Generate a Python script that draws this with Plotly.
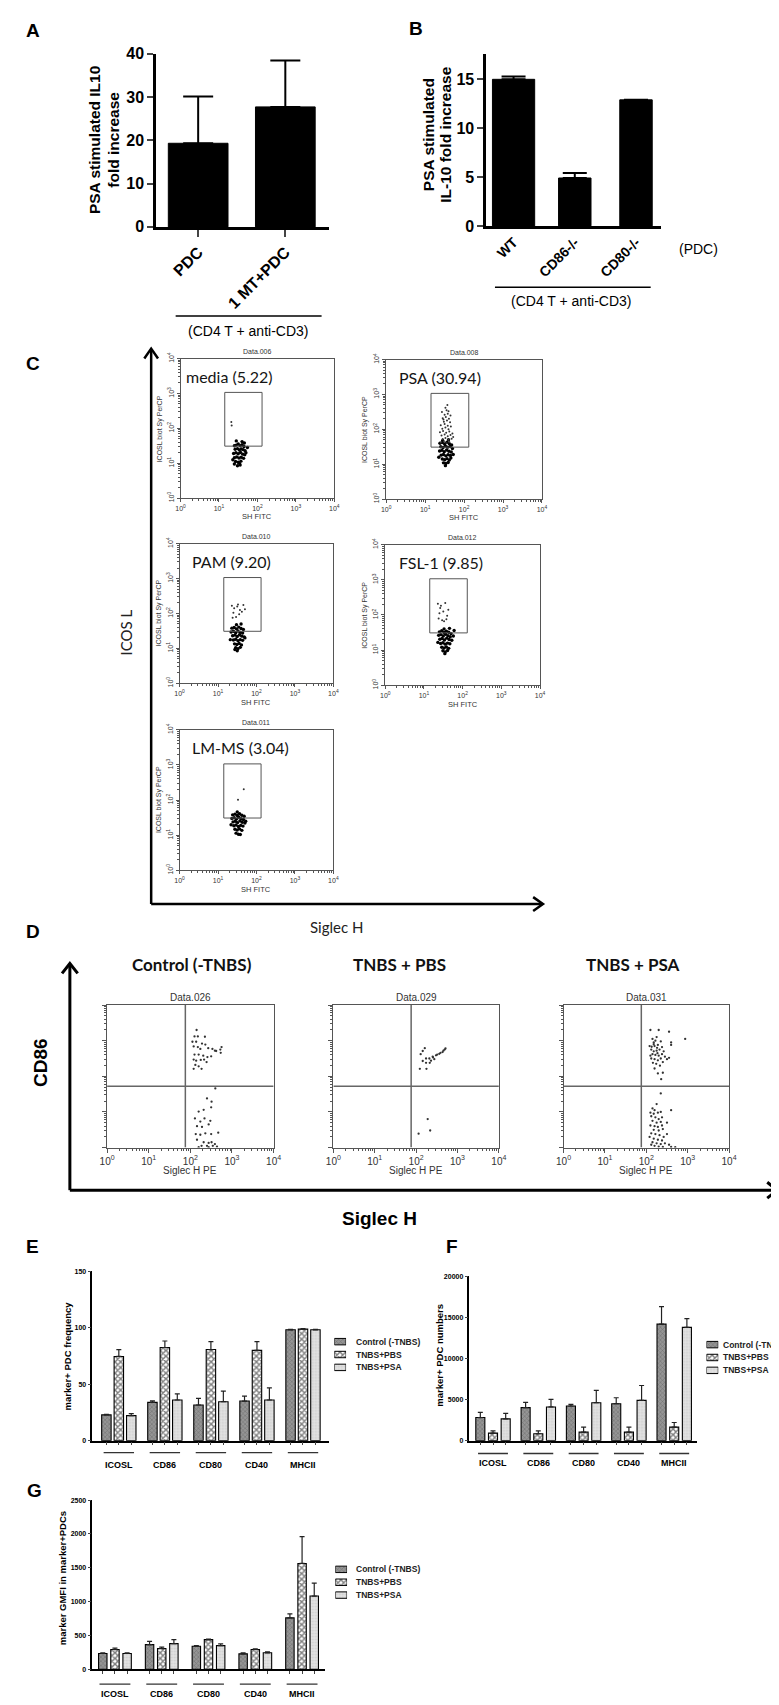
import numpy as np
import plotly.graph_objects as go

W, H = 779, 1705
ARIAL = "Liberation Sans, Arial, sans-serif"
CAL = "Lato, Carlito, sans-serif"

# ------------------------------------------------------------------ data
A_groups = ["PDC", "1 MT+PDC"]
A_mean = [19.3, 27.7]
A_sem = [10.8, 10.7]

B_groups = ["WT", "CD86-/-", "CD80-/-"]
B_mean = [15.0, 4.9, 12.9]
B_sem = [0.3, 0.5, 0.0]

C_labels = ["media (5.22)", "PSA (30.94)", "PAM (9.20)", "FSL-1 (9.85)", "LM-MS (3.04)"]
C_files = ["Data.006", "Data.008", "Data.010", "Data.012", "Data.011"]
C_gate = [1.15, 2.12, 1.49, 3.03]

media_cx = [1.40,1.45,1.50,1.55,1.60,1.65,1.42,1.48,1.53,1.58,1.63,1.68,1.38,1.44,1.50,1.56,1.62,1.67,1.40,1.46,1.52,1.58,1.64,1.43,1.50,1.57,1.48,1.55,1.36,1.70,1.60,1.45,1.53,1.66,1.40,1.74]
media_cy = [1.50,1.52,1.55,1.50,1.53,1.48,1.40,1.42,1.38,1.41,1.39,1.36,1.28,1.30,1.27,1.31,1.26,1.24,1.16,1.18,1.15,1.17,1.14,1.05,1.03,1.06,0.93,0.95,1.10,1.30,1.62,1.64,1.00,1.58,0.98,1.45]
media_gx = [1.32, 1.33]
media_gy = [2.18, 2.08]

psa_cx = [1.38,1.44,1.50,1.56,1.62,1.68,1.40,1.46,1.52,1.58,1.64,1.70,1.37,1.43,1.49,1.55,1.61,1.67,1.41,1.47,1.53,1.59,1.65,1.44,1.50,1.56,1.62,1.47,1.53,1.59,1.35,1.72,1.45,1.60,1.52,1.66]
psa_cy = [1.60,1.62,1.58,1.63,1.59,1.55,1.50,1.48,1.52,1.49,1.51,1.45,1.38,1.40,1.36,1.41,1.37,1.35,1.26,1.28,1.24,1.27,1.25,1.15,1.13,1.16,1.12,1.04,1.02,1.05,1.20,1.28,1.68,1.70,0.96,1.18]
psa_gx = [1.40,1.48,1.55,1.62,1.45,1.52,1.60,1.68,1.42,1.50,1.58,1.65,1.72,1.38,1.46,1.54,1.62,1.70,1.44,1.52,1.60,1.40,1.50,1.58,1.66,1.48,1.56,1.64,1.45,1.53,1.61,1.50,1.58,1.43,1.55,1.65,1.52,1.47,1.60,1.57]
psa_gy = [1.62,1.65,1.60,1.64,1.72,1.75,1.70,1.73,1.82,1.85,1.80,1.84,1.78,1.92,1.95,1.90,1.94,1.88,2.02,2.05,2.00,2.12,2.15,2.10,2.08,2.22,2.25,2.20,2.32,2.35,2.30,2.42,2.45,2.50,2.55,2.40,2.62,2.28,2.52,2.70]

pam_cx = [1.36,1.42,1.48,1.54,1.60,1.66,1.34,1.40,1.46,1.52,1.58,1.64,1.38,1.44,1.50,1.56,1.62,1.68,1.40,1.46,1.52,1.58,1.64,1.43,1.49,1.55,1.61,1.46,1.52,1.58,1.32,1.70,1.48,1.60,1.50,1.44]
pam_cy = [1.58,1.60,1.56,1.61,1.57,1.54,1.47,1.49,1.45,1.50,1.46,1.44,1.36,1.38,1.34,1.39,1.35,1.33,1.24,1.26,1.22,1.25,1.23,1.13,1.11,1.14,1.10,1.02,0.99,1.03,1.25,1.30,1.68,1.70,0.93,0.97]
pam_gx = [1.36,1.42,1.50,1.57,1.66,1.40,1.55,1.62,1.47,1.70,1.38,1.52]
pam_gy = [2.22,2.15,2.20,2.10,2.24,2.02,1.98,2.05,1.90,2.12,1.88,2.26]

fsl_cx = [1.40,1.46,1.52,1.58,1.64,1.70,1.38,1.44,1.50,1.56,1.62,1.68,1.41,1.47,1.53,1.59,1.65,1.72,1.43,1.49,1.55,1.61,1.67,1.46,1.52,1.58,1.64,1.49,1.55,1.61,1.36,1.76,1.52,1.66,1.54,1.78]
fsl_cy = [1.52,1.55,1.50,1.54,1.51,1.47,1.42,1.44,1.40,1.45,1.41,1.38,1.31,1.33,1.29,1.34,1.30,1.28,1.19,1.21,1.17,1.20,1.18,1.08,1.06,1.09,1.05,0.98,0.95,0.99,1.22,1.40,1.60,1.62,0.90,1.56]
fsl_gx = [1.36,1.42,1.55,1.40,1.50,1.60,1.38,1.47,1.58,1.44,1.52,1.63]
fsl_gy = [2.32,2.20,2.34,2.05,2.10,1.98,1.90,1.85,1.88,2.26,1.82,2.15]

lm_cx = [1.38,1.44,1.50,1.56,1.62,1.68,1.36,1.42,1.48,1.54,1.60,1.66,1.39,1.45,1.51,1.57,1.63,1.70,1.41,1.47,1.53,1.59,1.65,1.44,1.50,1.56,1.62,1.47,1.53,1.34,1.72,1.50,1.58]
lm_cy = [1.58,1.60,1.56,1.61,1.57,1.54,1.48,1.50,1.46,1.51,1.47,1.45,1.38,1.40,1.36,1.41,1.37,1.35,1.27,1.29,1.25,1.28,1.26,1.17,1.15,1.18,1.14,1.06,1.03,1.30,1.40,1.66,1.02]
lm_gx = [1.67, 1.52]
lm_gy = [2.31, 2.01]

D_titles = ["Control (-TNBS)", "TNBS + PBS", "TNBS + PSA"]
D_files = ["Data.026", "Data.029", "Data.031"]
D_quad = [1.88, 1.72]

ctrl_x = [2.15,2.10,2.18,2.35,2.05,2.14,2.28,2.36,2.08,2.18,2.24,2.43,2.53,2.62,2.75,2.72,2.10,2.20,2.31,2.41,2.50,2.08,2.14,2.25,2.33,2.12,2.20,2.27,2.08,2.39,2.59,2.73,
          2.60,2.40,2.51,2.20,2.32,2.50,2.11,2.34,2.24,2.48,2.16,2.28,2.44,2.13,2.24,2.36,2.50,2.67,2.16,2.32,2.44,2.51,2.59,2.27,2.40,2.54,2.64,2.20,2.44]
ctrl_y = [3.30,3.12,3.12,3.11,2.97,2.97,2.92,2.89,2.84,2.82,2.77,2.79,2.77,2.71,2.82,2.75,2.61,2.61,2.58,2.54,2.56,2.47,2.44,2.46,2.47,2.32,2.28,2.21,2.21,2.40,2.72,2.66,
          1.66,1.38,1.29,1.01,1.06,1.13,0.82,0.82,0.73,0.75,0.60,0.58,0.65,0.38,0.36,0.40,0.38,0.42,0.22,0.15,0.13,0.15,0.10,0.05,0.05,0.05,0.03,0.01,0.01]
pbs_x = [2.21,2.16,2.11,2.24,2.32,2.40,2.44,2.36,2.48,2.56,2.64,2.69,2.71,2.16,2.24,2.09,2.25,2.33,2.41,2.51,2.59,2.66,2.28,2.34,2.06]
pbs_y = [2.79,2.71,2.62,2.50,2.50,2.55,2.48,2.44,2.59,2.63,2.68,2.75,2.78,2.43,2.38,2.21,2.21,2.38,2.53,2.61,2.66,2.72,0.80,0.48,0.39]
dpsa_x = [2.10,2.30,2.55,2.94,2.15,2.25,2.22,2.18,2.35,2.08,2.13,2.20,2.28,2.38,2.12,2.18,2.25,2.32,2.42,2.15,2.22,2.30,2.38,2.45,2.55,2.60,2.60,2.12,2.20,2.28,2.35,2.16,2.24,2.33,2.20,2.28,2.40,2.36,2.10,2.27,2.40,2.50,2.18,2.26,
          2.35,2.25,2.15,2.20,2.60,2.10,2.18,2.28,2.35,2.12,2.22,2.30,2.38,2.15,2.25,2.35,2.50,2.10,2.20,2.28,2.38,2.18,2.30,2.40,2.12,2.22,2.32,2.42,2.50,2.08,2.18,2.28,2.38,2.15,2.25,2.35,2.45,2.55,2.20,2.30,2.40,2.60,2.70,2.12]
dpsa_y = [3.30,3.30,3.25,3.05,3.05,3.10,3.00,2.95,2.98,2.85,2.83,2.85,2.88,2.82,2.75,2.70,2.72,2.75,2.70,2.62,2.60,2.58,2.62,2.55,2.52,2.88,2.95,2.50,2.48,2.45,2.50,2.38,2.35,2.30,2.22,2.08,2.10,1.92,2.58,2.65,2.40,2.48,2.90,2.80,
          1.52,1.22,1.10,1.05,1.05,0.98,0.95,0.98,1.00,0.88,0.85,0.80,0.85,0.75,0.70,0.72,0.70,0.62,0.60,0.58,0.62,0.50,0.48,0.52,0.40,0.38,0.35,0.30,0.38,0.30,0.25,0.22,0.20,0.15,0.12,0.10,0.12,0.08,0.05,0.03,0.02,0.02,0.01,0.08]

markers = ["ICOSL", "CD86", "CD80", "CD40", "MHCII"]
series = ["Control (-TNBS)", "TNBS+PBS", "TNBS+PSA"]

E_ctrl = [22.8, 33.9, 31.6, 35.1, 98.2]
E_ctrl_sem = [0.5, 1.3, 5.8, 4.4, 0.5]
E_pbs = [74.6, 82.5, 80.7, 80.0, 98.8]
E_pbs_sem = [6.1, 5.8, 7.0, 7.7, 0.4]
E_psa = [22.2, 36.0, 34.5, 36.0, 98.2]
E_psa_sem = [1.8, 5.5, 9.4, 10.8, 0.5]

F_ctrl = [2810, 4020, 4220, 4500, 14180]
F_ctrl_sem = [640, 640, 200, 720, 2130]
F_pbs = [920, 840, 1040, 1040, 1650]
F_pbs_sem = [280, 360, 600, 600, 560]
F_psa = [2650, 4100, 4620, 4900, 13780]
F_psa_sem = [680, 920, 1490, 1810, 1080]

G_ctrl = [234, 365, 341, 229, 760]
G_ctrl_sem = [9, 49, 10, 15, 59]
G_pbs = [292, 307, 439, 292, 1564]
G_pbs_sem = [20, 20, 9, 10, 395]
G_psa = [234, 380, 351, 244, 1082]
G_psa_sem = [8, 59, 24, 14, 190]

# ------------------------------------------------------------------ helpers
def X(px):
    return px / W

def Y(py):
    return 1 - py / H

def xd(a, b):
    return [a / W, b / W]

def yd(top, bot):
    return [1 - bot / H, 1 - top / H]

def xa(i):
    return "xaxis" if i == 1 else f"xaxis{i}"

def ya(i):
    return "yaxis" if i == 1 else f"yaxis{i}"

def xr(i):
    return "x" if i == 1 else f"x{i}"

def yr(i):
    return "y" if i == 1 else f"y{i}"

fig = go.Figure()
layout = dict(width=W, height=H, margin=dict(l=0, r=0, t=0, b=0), showlegend=False,
              paper_bgcolor="white", plot_bgcolor="white", barmode="overlay")
shapes = []
anns = []

def ann(text, x, y, size, bold=False, angle=0, family=ARIAL, color="black", xanchor="center", yanchor="middle"):
    anns.append(dict(text=text, x=X(x), y=Y(y), xref="paper", yref="paper",
                     showarrow=False, textangle=angle, xanchor=xanchor, yanchor=yanchor,
                     font=dict(family=family, size=size, color=color, weight="bold" if bold else "normal")))

def hline(x0, x1, y, w=1.5, color="black"):
    shapes.append(dict(type="line", xref="paper", yref="paper", x0=X(x0), x1=X(x1), y0=Y(y), y1=Y(y),
                       line=dict(color=color, width=w)))

def vline(x, y0, y1, w=1.5, color="black"):
    shapes.append(dict(type="line", xref="paper", yref="paper", x0=X(x), x1=X(x), y0=Y(y0), y1=Y(y1),
                       line=dict(color=color, width=w)))

def chevron(pts, w=3):
    d = "M " + " L ".join(f"{X(a)},{Y(b)}" for a, b in pts)
    shapes.append(dict(type="path", xref="paper", yref="paper", path=d, line=dict(color="black", width=w)))

bold16 = dict(family=ARIAL, size=16, color="black", weight="bold")

# ------------------------------------------------------------------ A
fig.add_trace(go.Bar(x=A_groups, y=A_mean, width=0.685,
                     marker=dict(color="black", line=dict(color="black", width=1)),
                     error_y=dict(type="data", symmetric=False, array=A_sem, arrayminus=[0] * len(A_sem),
                                  color="black", thickness=2, width=15),
                     xaxis="x", yaxis="y"))
layout[xa(1)] = dict(domain=xd(143, 320), anchor="y", type="category", range=[-0.483, 1.506],
                     showline=True, linewidth=2.5, linecolor="black", ticks="outside", ticklen=7, tickwidth=2,
                     tickangle=-45, tickfont=bold16, showgrid=False, zeroline=False)
layout[ya(1)] = dict(domain=yd(38, 213), anchor="x", range=[0, 40], dtick=10,
                     showline=True, linewidth=2.5, linecolor="black", ticks="outside", ticklen=6, tickwidth=2,
                     tickfont=bold16, showgrid=False, zeroline=False)
ann("PSA stimulated IL10", 80, 125, 15.5, bold=True, angle=-90)
ann("fold increase", 100, 125, 15.5, bold=True, angle=-90)
hline(163, 312, 303, 1.5)
ann("(CD4 T + anti-CD3)", 237, 318, 14)

# ------------------------------------------------------------------ B
fig.add_trace(go.Bar(x=B_groups, y=B_mean, width=[0.69, 0.53, 0.53],
                     marker=dict(color="black", line=dict(color="black", width=1)),
                     error_y=dict(type="data", symmetric=False, array=B_sem, arrayminus=[0] * len(B_sem),
                                  color="black", thickness=2, width=12),
                     xaxis="x2", yaxis="y2"))
layout[xa(2)] = dict(domain=xd(480, 659), anchor="y2", type="category", range=[-0.448, 2.416],
                     showline=True, linewidth=2.5, linecolor="black", ticks="", tickangle=-45,
                     tickfont=dict(family=ARIAL, size=14, color="black", weight="bold"), showgrid=False, zeroline=False)
layout[ya(2)] = dict(domain=yd(38, 212), anchor="x2", range=[0, 17.63], dtick=5,
                     showline=True, linewidth=2.5, linecolor="black", ticks="outside", ticklen=6, tickwidth=2,
                     tickfont=bold16, showgrid=False, zeroline=False)
ann("PSA stimulated", 421, 120, 15.5, bold=True, angle=-90)
ann("IL-10 fold increase", 439, 120, 15.5, bold=True, angle=-90)
hline(489, 648, 274, 1.5)
ann("(CD4 T + anti-CD3)", 567, 288, 14)
ann("(PDC)", 697, 235, 14)

# ------------------------------------------------------------------ C
minor_vals = [float(np.log10(k) + d) for d in range(4) for k in range(2, 10)]
dec_text = [f"10<sup>{k}</sup>" for k in range(5)]

C_boxes = [(168, 325, 346, 487), (378, 537, 347, 488), (167, 324, 533, 674), (377, 535, 534, 676), (167, 324, 721, 863)]
C_text_dx = [4, 11, 11, 12, 11]
C_clusters = [(media_cx, media_cy, media_gx, media_gy), (psa_cx, psa_cy, psa_gx, psa_gy),
              (pam_cx, pam_cy, pam_gx, pam_gy), (fsl_cx, fsl_cy, fsl_gx, fsl_gy), (lm_cx, lm_cy, lm_gx, lm_gy)]

def flow_axes(i, box, xfont, yfont, ylabels=True, xlen=3):
    l, r, t, b = box
    common = dict(range=[0, 4], tickmode="array", tickvals=list(range(5)), ticktext=dec_text,
                  showline=True, mirror=True, linecolor="#555", linewidth=1, ticks="outside", ticklen=xlen,
                  tickcolor="#555", showgrid=False, zeroline=False,
                  minor=dict(tickmode="array", tickvals=minor_vals, ticks="outside", ticklen=2, tickcolor="#555", showgrid=False))
    layout[xa(i)] = dict(domain=xd(l, r), anchor=yr(i), tickfont=xfont, **common)
    layout[ya(i)] = dict(domain=yd(t, b), anchor=xr(i), tickfont=yfont, tickangle=-90,
                         showticklabels=ylabels, **common)

for k in range(5):
    i = 3 + k
    l, r, t, b = C_boxes[k]
    f = dict(family=ARIAL, size=7, color="#333")
    flow_axes(i, C_boxes[k], f, f)
    cx, cy, gx, gy = C_clusters[k]
    fig.add_trace(go.Scatter(x=cx, y=cy, mode="markers", marker=dict(color="black", size=3.4),
                             xaxis=xr(i), yaxis=yr(i), hoverinfo="skip"))
    fig.add_trace(go.Scatter(x=gx, y=gy, mode="markers", marker=dict(color="#333", size=2),
                             xaxis=xr(i), yaxis=yr(i), hoverinfo="skip"))
    shapes.append(dict(type="rect", xref=xr(i), yref=yr(i), x0=C_gate[0], x1=C_gate[1], y0=C_gate[2], y1=C_gate[3],
                       line=dict(color="#555", width=1)))
    ann(C_labels[k], l + C_text_dx[k], t + 18, 16, family=CAL, color="#151515", xanchor="left")
    ann(C_files[k], (l + r) / 2, t - 7, 7, color="#333")
    ann("SH FITC", (l + r) / 2, b + 19, 7.5, color="#333")
    ann("ICOSL biot Sy PerCP", l - 21, (t + b) / 2, 7, color="#333", angle=-90)

vline(138, 897, 337, 2.5)
hline(138, 537, 897, 2.5)
chevron([(131, 346), (138, 336), (145, 346)], 2.5)
chevron([(528, 890), (538, 897), (528, 904)], 2.5)
ann("ICOS L", 112, 623, 15, family=CAL, color="#222", angle=-90)
ann("Siglec H", 327, 920, 15, family=CAL, color="#222")

# ------------------------------------------------------------------ D
D_boxes = [(93, 263), (324, 493), (559, 728)]
D_title_x = [180, 392, 630]
D_points = [(ctrl_x, ctrl_y), (pbs_x, pbs_y), (dpsa_x, dpsa_y)]
for k in range(3):
    i = 8 + k
    l, r = D_boxes[k]
    box = (l, r, 999, 1143)
    flow_axes(i, box, dict(family=ARIAL, size=10, color="#333"), dict(family=ARIAL, size=10, color="#333"),
              ylabels=False, xlen=4)
    px_, py_ = D_points[k]
    fig.add_trace(go.Scatter(x=px_, y=py_, mode="markers", marker=dict(color="#333", size=2.3),
                             xaxis=xr(i), yaxis=yr(i), hoverinfo="skip"))
    shapes.append(dict(type="line", xref=xr(i), yref=yr(i), x0=D_quad[0], x1=D_quad[0], y0=0, y1=4,
                       line=dict(color="#666", width=1.5)))
    shapes.append(dict(type="line", xref=xr(i), yref=yr(i), x0=0, x1=4, y0=D_quad[1], y1=D_quad[1],
                       line=dict(color="#666", width=1.5)))
    ann(D_files[k], (l + r) / 2, 991, 10, color="#333")
    ann("Siglec H PE", (l + r) / 2, 1166, 10, color="#333")
    ann(D_titles[k], D_title_x[k], 958, 17, bold=True, family=CAL, color="#111")

vline(55, 1186, 959, 3)
hline(55, 776, 1186, 3)
chevron([(47, 967), (55, 957), (63, 967)], 3)
chevron([(767, 1178), (777, 1186), (767, 1194)], 3)
ann("CD86", 25, 1057, 19, bold=True, angle=-90)
ann("Siglec H", 371, 1215, 19, bold=True)

# ------------------------------------------------------------------ E, F, G
pat_ctrl = dict(shape="x", bgcolor="#959595", fgcolor="#4d4d4d", size=3, solidity=0.35)
pat_pbs = dict(shape="x", bgcolor="white", fgcolor="black", size=4, solidity=0.6)
pat_psa = dict(shape=".", bgcolor="#e2e2e2", fgcolor="#b8b8b8", size=3, solidity=0.3)
patterns = [pat_ctrl, pat_pbs, pat_psa]

def grouped_panel(i, li, means, sems, xdom, xrange_, ydom, yrange, dtick, offs, bw, ylab, ylab_xy, ul_y, lab_y, leg):
    n = len(markers)
    tickpos = []
    for s in range(3):
        pos = [g + (s - 1) * offs for g in range(n)]
        tickpos += pos
        fig.add_trace(go.Bar(x=pos, y=means[s], width=bw, name=series[s],
                             marker=dict(color=patterns[s]["bgcolor"], pattern=patterns[s],
                                         line=dict(color="black", width=1.1)),
                             error_y=dict(type="data", symmetric=False, array=sems[s], arrayminus=[0] * n,
                                          color="#222", thickness=1.2, width=2.5),
                             xaxis=xr(i), yaxis=yr(i)))
    layout[xa(i)] = dict(domain=xd(*xdom), anchor=yr(i), range=xrange_,
                         tickmode="array", tickvals=sorted(tickpos), showticklabels=False,
                         showline=True, linewidth=1.5, linecolor="black", ticks="outside", ticklen=3, tickwidth=1.2,
                         showgrid=False, zeroline=False)
    layout[ya(i)] = dict(domain=yd(*ydom), anchor=xr(i), range=yrange, dtick=dtick, tickformat="d",
                         showline=True, linewidth=1.5, linecolor="black", ticks="outside", ticklen=3, tickwidth=1.2,
                         tickfont=dict(family=ARIAL, size=7, color="black", weight="bold"),
                         showgrid=False, zeroline=False)
    ann(ylab, ylab_xy[0], ylab_xy[1], 9.5, bold=True, angle=-90)
    for g in range(n):
        shapes.append(dict(type="line", xref=xr(i), yref="paper", x0=g - 0.33, x1=g + 0.33, y0=Y(ul_y), y1=Y(ul_y),
                           line=dict(color="#333", width=1.3)))
        anns.append(dict(text=markers[g], x=g, y=Y(lab_y), xref=xr(i), yref="paper", showarrow=False,
                         yanchor="middle", xanchor="center",
                         font=dict(family=ARIAL, size=9, color="black", weight="bold")))
    # legend: swatches drawn as small horizontal bars on their own axis, rows 13 px apart
    sx, tx, row0 = leg
    for s in range(3):
        fig.add_trace(go.Bar(x=[1], y=[s], orientation="h", width=0.5, name=series[s],
                             marker=dict(color=patterns[s]["bgcolor"], pattern=patterns[s],
                                         line=dict(color="black", width=1)),
                             xaxis=xr(li), yaxis=yr(li), hoverinfo="skip"))
        ann(series[s], tx, row0 + 13 * s, 8.5, bold=True, color="#222", xanchor="left")
    layout[xa(li)] = dict(domain=xd(sx, sx + 12), anchor=yr(li), range=[0, 1], visible=False)
    layout[ya(li)] = dict(domain=yd(row0 - 6.5, row0 + 32.5), anchor=xr(li), range=[2.5, -0.5], visible=False)

grouped_panel(11, 14, [E_ctrl, E_pbs, E_psa], [E_ctrl_sem, E_pbs_sem, E_psa_sem],
              (78, 320), [-0.574, 4.574], (1268, 1439), [0, 150], 50, 0.27, 0.205,
              "marker+ PDC frequency", (53, 1353), 1451, 1464, (325, 345, 1339))
grouped_panel(12, 15, [F_ctrl, F_pbs, F_psa], [F_ctrl_sem, F_pbs_sem, F_psa_sem],
              (463, 695), [-0.519, 4.497], (1273, 1439), [0, 20000], 5000, 0.28, 0.2,
              "marker+ PDC numbers", (432, 1353), 1452, 1462, (705, 720, 1342))
grouped_panel(13, 16, [G_ctrl, G_pbs, G_psa], [G_ctrl_sem, G_pbs_sem, G_psa_sem],
              (78, 315), [-0.482, 4.48], (1499, 1670), [0, 2500], 500, 0.26, 0.18,
              "marker GMFI in marker+PDCs", (47, 1578), 1685, 1695, (326, 345, 1569))

for lt, x, y in [("A", 17, 15), ("B", 408, 13), ("C", 17, 351), ("D", 17, 925), ("E", 17, 1243), ("F", 445, 1243), ("G", 19, 1489)]:
    ann(lt, x, y, 19, bold=True)

layout["shapes"] = shapes
layout["annotations"] = anns
fig.update_layout(**layout)
fig.write_html("out.html")
